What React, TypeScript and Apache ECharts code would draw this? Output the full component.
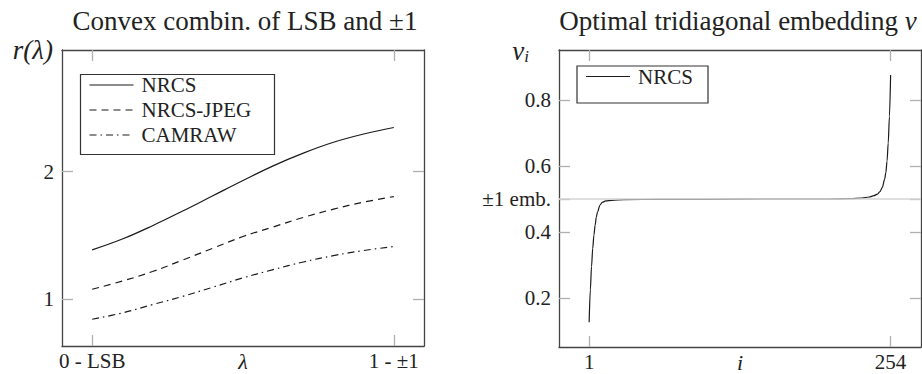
import React, { useEffect, useRef } from "react";
import * as echarts from "echarts";

// ---------- Data ----------
const lambdaValues = [0, 0.1, 0.2, 0.3, 0.4, 0.5, 0.6, 0.7, 0.8, 0.9, 1.0];
const nrcsValues = [1.385, 1.47, 1.575, 1.69, 1.81, 1.93, 2.045, 2.145, 2.23, 2.295, 2.346];
const nrcsJpegValues = [1.076, 1.14, 1.215, 1.305, 1.398, 1.49, 1.565, 1.64, 1.705, 1.76, 1.804];
const camrawValues = [0.84, 0.89, 0.955, 1.02, 1.092, 1.165, 1.23, 1.29, 1.34, 1.38, 1.411];
const leftSeriesNames = ["NRCS", "NRCS-JPEG", "CAMRAW"];
const leftXTicks = [0, 1];
const leftXTickLabels = ["0 - LSB", "1 - ±1"];
const leftYTicks = [1, 2];

const embIndex = [1, 2, 3, 4, 5, 6, 7, 8, 10, 12, 15, 20, 30, 60, 100, 150, 200, 220, 230, 236, 240, 243, 245, 247, 249, 250, 251, 252, 253, 254];
const embValues = [0.126, 0.225, 0.295, 0.35, 0.39, 0.42, 0.445, 0.46, 0.481, 0.49, 0.494, 0.496, 0.498, 0.499, 0.499, 0.5, 0.5, 0.501, 0.503, 0.506, 0.51, 0.515, 0.522, 0.535, 0.56, 0.58, 0.615, 0.67, 0.75, 0.876];
const rightSeriesNames = ["NRCS"];
const rightXTicks = [1, 254];
const rightYTicks = [0.2, 0.4, 0.5, 0.6, 0.8];
const plusMinusOneLevel = 0.5;
const plusMinusOneLabel = "±1 emb.";

const SERIF = "Liberation Serif";
const AXIS_COLOR = "#444";
const TICK_COLOR = "#b0b0b0";
const LINE_COLOR = "#1a1a1a";
const lineTypes: any[] = ["solid", [7, 5], [7, 4, 1.5, 4]];

function makeAxes(
  gridIndex: number,
  min: number,
  max: number,
  ticks: number[],
  labelFmt: (v: number) => string,
  horizontal: boolean,
  name?: string
) {
  const common = {
    gridIndex,
    type: "value",
    min,
    max,
    splitLine: { show: false },
    axisLine: { show: true, onZero: false, lineStyle: { color: AXIS_COLOR, width: 1.3 } },
    axisTick: {
      show: true,
      inside: true,
      length: 11,
      customValues: ticks,
      lineStyle: { color: TICK_COLOR, width: 1.3 },
    },
  };
  const main: any = {
    ...common,
    position: horizontal ? "bottom" : "left",
    axisLabel: {
      show: true,
      customValues: ticks,
      formatter: (v: number) => labelFmt(v),
      margin: horizontal ? 4 : 8,
      fontFamily: SERIF,
      fontSize: 21,
      color: "#222",
    },
  };
  if (name) {
    main.name = name;
    main.nameLocation = "middle";
    main.nameGap = 15;
    main.nameMoveOverlap = false;
    main.nameTextStyle = {
      fontFamily: SERIF,
      fontSize: 22,
      lineHeight: 16,
      fontStyle: "italic",
      color: "#222",
      verticalAlign: "middle",
    };
  }
  const mirror: any = {
    ...common,
    position: horizontal ? "top" : "right",
    axisLabel: { show: false },
  };
  return [main, mirror];
}

function legendGraphic(x: number, y: number, w: number, names: string[], rowH: number) {
  const h = names.length * rowH + 5;
  const els: any[] = [
    {
      type: "rect",
      shape: { x, y, width: w, height: h },
      style: { fill: "#fff", stroke: "#333", lineWidth: 1.2 },
      z: 10,
    },
  ];
  names.forEach((n, i) => {
    const cy = y + 10.5 + i * rowH;
    els.push({
      type: "line",
      shape: { x1: x + 9, y1: cy, x2: x + 53, y2: cy },
      style: {
        stroke: LINE_COLOR,
        lineWidth: 1.2,
        lineDash: lineTypes[i] === "solid" ? null : lineTypes[i],
      },
      z: 11,
    });
    els.push({
      type: "text",
      x: x + 61,
      y: cy,
      style: {
        text: n,
        fontFamily: SERIF,
        fontSize: 21,
        fill: "#222",
        verticalAlign: "middle",
        align: "left",
      },
      z: 11,
    });
  });
  return els;
}

export default function App() {
  const ref = useRef<HTMLDivElement>(null);

  useEffect(() => {
    if (!ref.current) return;
    const chart = echarts.init(ref.current, null, { renderer: "svg" });

    const leftX = makeAxes(0, -0.1, 1.1, leftXTicks, (v) => leftXTickLabels[leftXTicks.indexOf(v)] ?? String(v), true, "λ");
    const leftY = makeAxes(0, 0.63, 2.955, leftYTicks, (v) => String(v), false);
    const rightX = makeAxes(1, -24.3, 279.5, rightXTicks, (v) => String(v), true, "i");
    const rightY = makeAxes(1, 0.051, 0.952, rightYTicks, (v) =>
      Math.abs(v - plusMinusOneLevel) < 1e-9 ? plusMinusOneLabel : v.toFixed(1), false);

    const leftData = [nrcsValues, nrcsJpegValues, camrawValues];

    const option: any = {
      animation: false,
      backgroundColor: "#fff",
      title: [
        {
          text: "Convex combin. of LSB and ±1",
          left: 240,
          top: 2,
          textAlign: "center",
          textStyle: { fontFamily: SERIF, fontSize: 27, fontWeight: "normal", color: "#222" },
        },
        {
          text: "Optimal tridiagonal embedding {it|v}",
          left: 733,
          top: 2,
          textAlign: "center",
          textStyle: {
            fontFamily: SERIF,
            fontSize: 27,
            fontWeight: "normal",
            color: "#222",
            rich: { it: { fontFamily: SERIF, fontSize: 27, fontStyle: "italic", color: "#222" } },
          },
        },
      ],
      grid: [
        { left: 62, top: 50, width: 362, height: 296, outerBoundsMode: "none", containLabel: false },
        { left: 559, top: 50, width: 362, height: 297, outerBoundsMode: "none", containLabel: false },
      ],
      xAxis: [...leftX, ...rightX],
      yAxis: [...leftY, ...rightY],
      series: [
        ...leftSeriesNames.map((n, i) => ({
          name: n,
          type: "line",
          xAxisIndex: 0,
          yAxisIndex: 0,
          data: lambdaValues.map((l, k) => [l, leftData[i][k]]),
          showSymbol: false,
          smooth: 0.4,
          lineStyle: { color: LINE_COLOR, width: 1.2, type: lineTypes[i] },
          z: 3,
        })),
        {
          name: "ref",
          type: "line",
          xAxisIndex: 2,
          yAxisIndex: 2,
          data: [],
          z: 1,
          markLine: {
            silent: true,
            symbol: "none",
            label: { show: false },
            lineStyle: { color: "#d4d4d4", width: 1.6, type: "solid" },
            data: [{ yAxis: plusMinusOneLevel }],
          },
        },
        {
          name: rightSeriesNames[0],
          type: "line",
          xAxisIndex: 2,
          yAxisIndex: 2,
          data: embIndex.map((i, k) => [i, embValues[k]]),
          showSymbol: false,
          smooth: 0.3,
          smoothMonotone: "x",
          lineStyle: { color: LINE_COLOR, width: 1.2 },
          z: 3,
        },
      ],
      graphic: [
        {
          type: "text",
          x: 53,
          y: 50,
          style: {
            text: "r(λ)",
            fontFamily: SERIF,
            fontSize: 27,
            fontStyle: "italic",
            fill: "#222",
            align: "right",
            verticalAlign: "middle",
          },
        },
        {
          type: "text",
          x: 529,
          y: 51,
          style: {
            text: "{v|v}{s|i}",
            fontFamily: SERIF,
            align: "right",
            verticalAlign: "middle",
            rich: {
              v: { fontFamily: SERIF, fontSize: 27, fontStyle: "italic", fill: "#222" },
              s: { fontFamily: SERIF, fontSize: 17, fontStyle: "italic", fill: "#222", padding: [10, 0, 0, 0] },
            },
          },
        },
        ...legendGraphic(80.5, 74.5, 194, leftSeriesNames, 25),
        ...legendGraphic(577, 66, 131, rightSeriesNames, 32),
      ],
    };

    chart.setOption(option);
    return () => chart.dispose();
  }, []);

  return (
    <div
      ref={ref}
      style={{ position: "fixed", left: 0, top: 0, width: 922, height: 374, background: "#fff" }}
    />
  );
}
